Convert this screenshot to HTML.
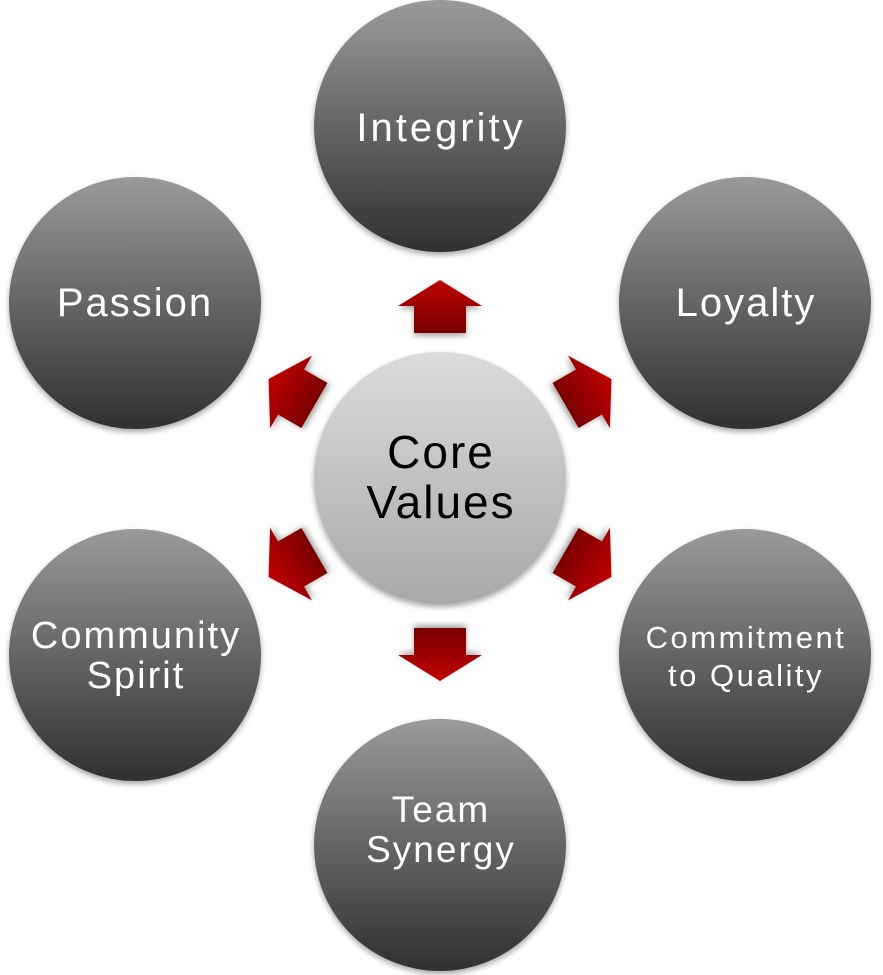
<!DOCTYPE html>
<html><head><style>
body{margin:0;background:#fff}
svg{display:block}
text{font-family:"Liberation Sans",sans-serif;text-anchor:middle}
</style></head><body>
<svg width="883" height="975" viewBox="0 0 883 975">
<defs>
<linearGradient id="g" x1="0" y1="0" x2="0" y2="1">
<stop offset="0" stop-color="#9a9a9a"/><stop offset="1" stop-color="#303030"/></linearGradient>
<linearGradient id="c" x1="0" y1="0" x2="0" y2="1">
<stop offset="0" stop-color="#dcdcdc"/><stop offset="1" stop-color="#a8a8a8"/></linearGradient>
<linearGradient id="r" x1="0" y1="0" x2="0" y2="1">
<stop offset="0" stop-color="#c00000"/><stop offset="1" stop-color="#7a0000"/></linearGradient>
<filter id="s" x="-20%" y="-20%" width="140%" height="140%"><feDropShadow dx="0" dy="3" stdDeviation="3" flood-opacity="0.35"/></filter>
<g id="arr"><polygon points="440,280 482,306 466,306 466,333 414,333 414,306 398,306" fill="url(#r)" filter="url(#s)"/></g>
</defs>
<g filter="url(#s)">
<circle cx="440" cy="126" r="126" fill="url(#g)"/>
<circle cx="135" cy="303" r="126" fill="url(#g)"/>
<circle cx="745" cy="303" r="126" fill="url(#g)"/>
<circle cx="135" cy="655" r="126" fill="url(#g)"/>
<circle cx="745" cy="655" r="126" fill="url(#g)"/>
<circle cx="440" cy="845" r="126" fill="url(#g)"/>
<circle cx="440" cy="478" r="126" fill="url(#c)"/>
</g>
<use href="#arr"/>
<use href="#arr" transform="rotate(60 440 478)"/>
<use href="#arr" transform="rotate(120 440 478)"/>
<use href="#arr" transform="rotate(180 440 478) translate(0 -5)"/>
<use href="#arr" transform="rotate(240 440 478)"/>
<use href="#arr" transform="rotate(300 440 478)"/>
<g fill="#fff" font-size="40" letter-spacing="2">
<text x="441" y="141" letter-spacing="3">Integrity</text>
<text x="135" y="316">Passion</text>
<text x="746" y="316">Loyalty</text>
<text x="136" y="648" font-size="38">Community</text>
<text x="136" y="688" font-size="38">Spirit</text>
<text x="746" y="648" font-size="31" letter-spacing="2.5">Commitment</text>
<text x="746" y="686" font-size="31" letter-spacing="2.5">to Quality</text>
<text x="441" y="822" font-size="37">Team</text>
<text x="441" y="862" font-size="37">Synergy</text>
</g>
<g fill="#000" font-size="46" letter-spacing="2">
<text x="441" y="468">Core</text>
<text x="441" y="518">Values</text>
</g>
</svg>
</body></html>
